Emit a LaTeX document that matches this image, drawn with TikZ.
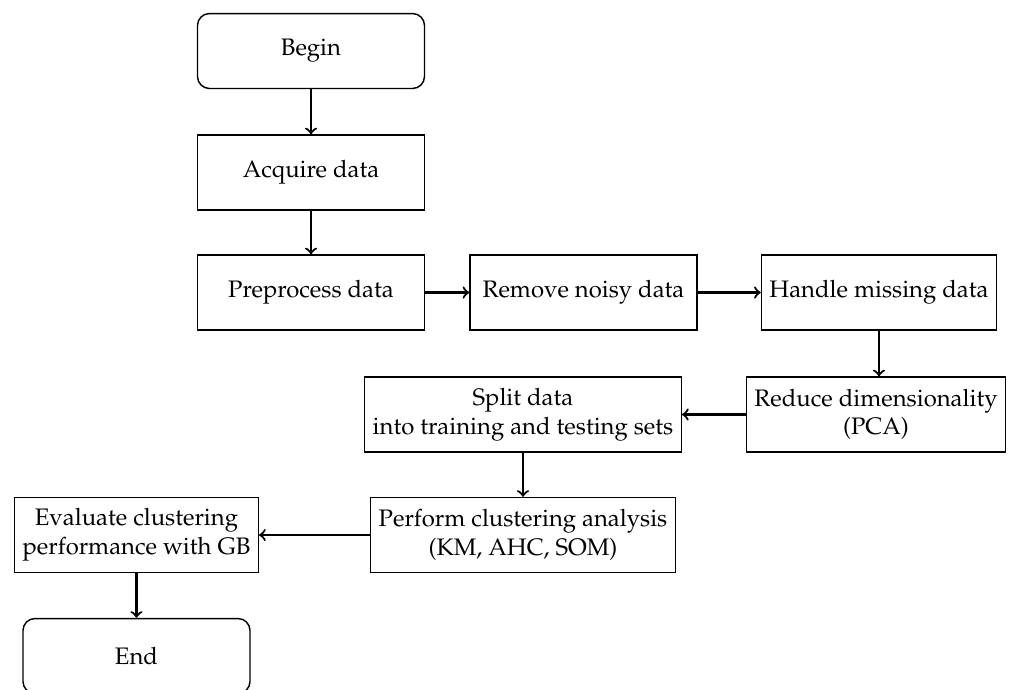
\documentclass[tikz,border=0pt]{standalone}
\usepackage[T1]{fontenc}
\usepackage{mathpazo}
\usepackage{amsmath}

\begin{document}
\begin{tikzpicture}
	[
	x=0.419pt,y=-0.419pt,
	process/.style={rectangle,draw,semithick,text centered,align=center,minimum width=95.1pt,minimum height=31.4pt},
	terminal/.style={process,rounded corners=5pt},
	flow/.style={line width=0.9pt,->},
	]
	\useasboundingbox (0,0) rectangle (1009,689);
	\node [terminal] (begin) at (311,51) {Begin};
	\node [process] (acquire) at (311,172.5) {Acquire data};
	\node [process] (preprocess) at (311,292.5) {Preprocess data};
	\node [process] (remove) at (583.5,292.5) {Remove noisy data};
	\node [process] (handle) at (879,292.5) {Handle missing data};
	\node [process] (reduce) at (876,414.5) {Reduce dimensionality\\(PCA)};
	\node [process] (split) at (523,414.5) {Split data\\into training and testing sets};
	\node [process] (perform) at (523,535) {Perform clustering analysis\\(KM, AHC, SOM)};
	\node [process] (evaluate) at (136.5,535) {Evaluate clustering\\performance with GB};
	\node [terminal] (end) at (136.5,656) {End};
	
	\draw [flow] (begin) -- (acquire);
	\draw [flow] (acquire) -- (preprocess);
	\draw [flow] (preprocess) -- (remove);
	\draw [flow] (remove) -- (handle);
	\draw [flow] (handle.south) -- (handle.south |- reduce.north);
	\draw [flow] (reduce) -- (split);
	\draw [flow] (split) -- (perform);
	\draw [flow] (perform) -- (evaluate);
	\draw [flow] (evaluate) -- (end);
	\end{tikzpicture}
\end{document}
